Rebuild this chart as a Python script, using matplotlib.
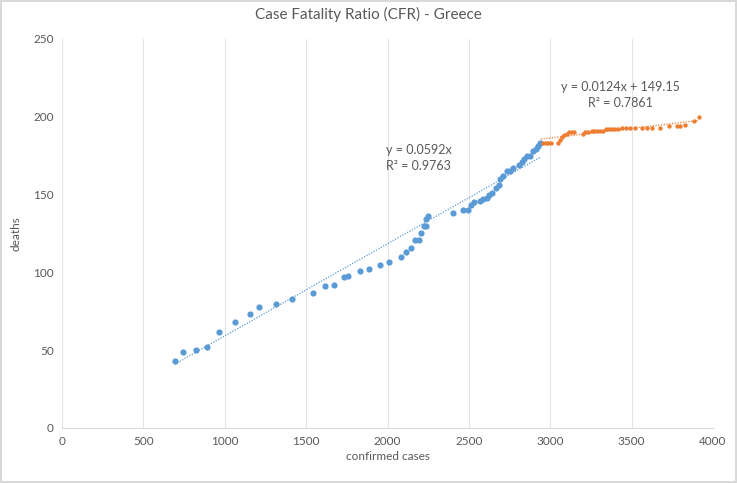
import matplotlib
matplotlib.use("Agg")
import matplotlib.pyplot as plt
import numpy as np

plt.rcParams['font.family'] = ['Lato', 'DejaVu Sans']

blue_x = [694, 741, 821, 891, 967, 1063, 1157, 1213, 1315, 1415, 1544, 1617, 1673, 1735, 1755,
          1831, 1884, 1954, 2011, 2083, 2114, 2145, 2169, 2192, 2208, 2226, 2237, 2237, 2247,
          2405, 2466, 2493, 2511, 2534, 2568, 2589, 2610, 2626, 2640, 2667, 2683, 2691, 2712,
          2732, 2753, 2769, 2810, 2825, 2841, 2859, 2876, 2896, 2912, 2927, 2937]
blue_y = [43, 49, 50, 52, 62, 68, 73, 78, 80, 83, 87, 91, 92, 97, 98,
          101, 102, 105, 107, 110, 113, 116, 121, 121, 125, 130, 130, 134, 136,
          138, 140, 140, 143, 145, 146, 147, 148, 150, 151, 154, 156, 160, 162,
          165, 165, 167, 169, 171, 173, 175, 175, 178, 179, 181, 183]

orange_x = [2957, 2974, 2988, 3003, 3050, 3060, 3070, 3087, 3101, 3117, 3132, 3146, 3199, 3213,
            3234, 3254, 3269, 3285, 3306, 3322, 3342, 3363, 3378, 3398, 3418, 3440, 3465, 3490,
            3520, 3561, 3592, 3623, 3674, 3732, 3777, 3797, 3828, 3885, 3914]
orange_y = [183, 183, 183, 183, 183, 185, 187, 188, 189, 190, 190, 190, 189, 190,
            190, 191, 191, 191, 191, 191, 192, 192, 192, 192, 192, 193, 193, 193,
            193, 193, 193, 193, 193, 194, 194, 194, 195, 197, 200]

blue_slope = 0.0592
orange_slope, orange_icpt = 0.0124, 149.15

BLUE = '#5B9BD5'
ORANGE = '#ED7D31'
TXT = '#595959'

fig = plt.figure(figsize=(7.37, 4.83), dpi=100)
fig.patch.set_edgecolor('#D9D9D9')
fig.patch.set_linewidth(1.5)
ax = fig.add_axes([62/737, 55/483, 651/737, 389/483])

# trendlines
bx = np.array([min(blue_x), max(blue_x)])
ax.plot(bx, blue_slope * bx, color=BLUE, linestyle=(0, (1, 1.2)), linewidth=0.9, zorder=2)
ox = np.array([min(orange_x) - 15, max(orange_x)])
ax.plot(ox, orange_slope * ox + orange_icpt, color=ORANGE, linestyle=(0, (1, 1.2)), linewidth=0.9, zorder=2)

ax.scatter(blue_x, blue_y, s=20, color=BLUE, linewidths=0, zorder=3)
ax.scatter(orange_x, orange_y, s=10, color=ORANGE, linewidths=0, zorder=3)

ax.set_xlim(0, 4000)
ax.set_ylim(0, 250)
ax.set_xticks(np.arange(0, 4001, 500))
ax.set_yticks(np.arange(0, 251, 50))
ax.xaxis.grid(True, color='#E3E3E3', linewidth=0.8)
ax.yaxis.grid(False)
ax.set_axisbelow(True)
for s in ['top', 'right', 'left']:
    ax.spines[s].set_visible(False)
ax.spines['bottom'].set_color('#D9D9D9')
ax.tick_params(axis='both', length=0, labelsize=8.5, labelcolor=TXT, pad=6)

ax.set_xlabel('confirmed cases', fontsize=8.5, color=TXT, labelpad=3)
ax.set_ylabel('deaths', fontsize=8.5, color=TXT, labelpad=8)
fig.suptitle('Case Fatality Ratio (CFR) - Greece', fontsize=11, color=TXT, y=0.985)

ax.text(1991, 178.7, 'y = 0.0592x', fontsize=9, color=TXT, ha='left', va='center')
ax.text(1991, 168.4, 'R² = 0.9763', fontsize=9, color=TXT, ha='left', va='center')
ax.text(3429, 219, 'y = 0.0124x + 149.15', fontsize=9, color=TXT, ha='center', va='center')
ax.text(3429, 208.9, 'R² = 0.7861', fontsize=9, color=TXT, ha='center', va='center')

fig.savefig('out.png', dpi=100)
